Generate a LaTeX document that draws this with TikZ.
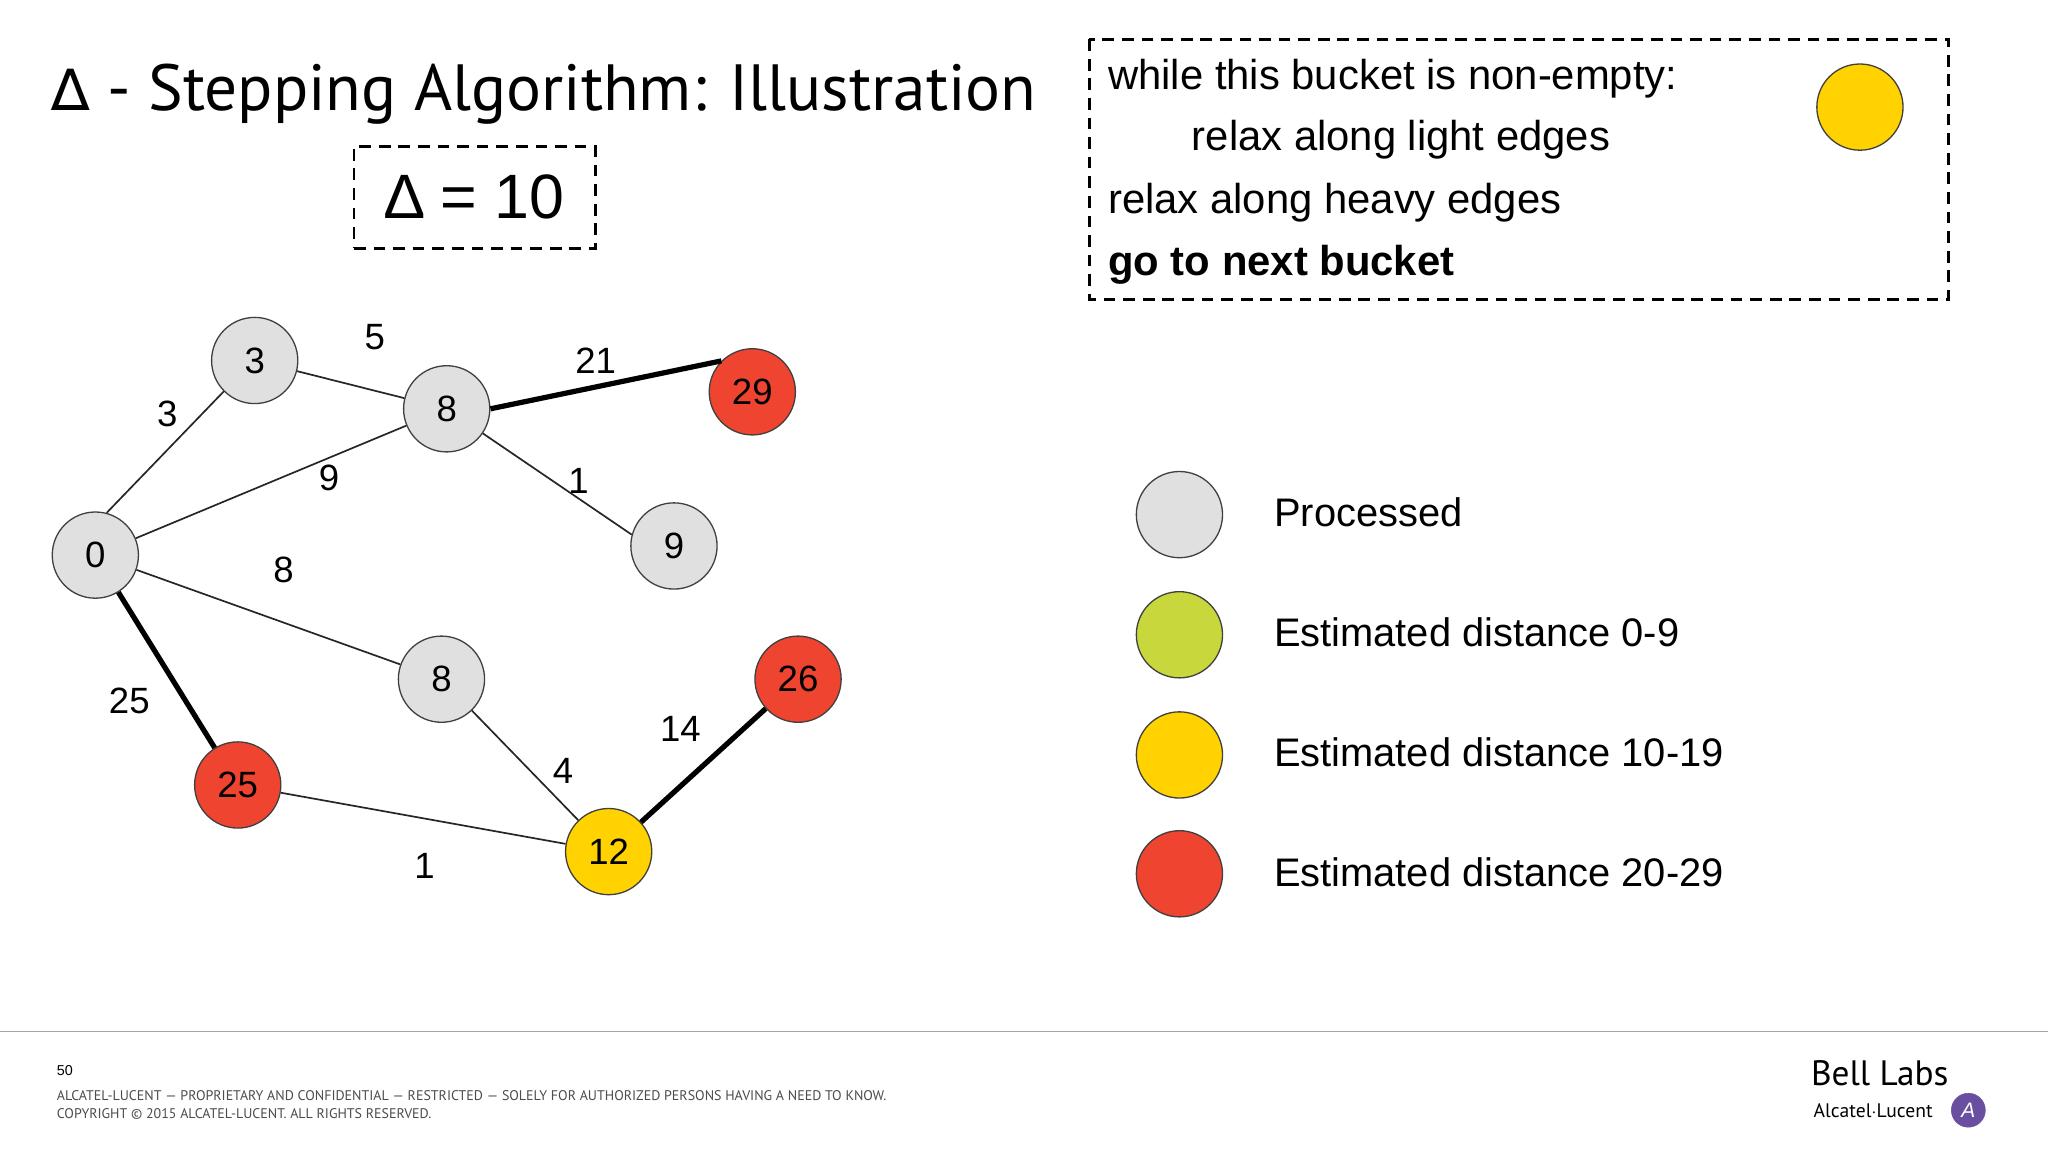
\documentclass[tikz,border=0pt]{standalone}
\usepackage{fontspec}
\setmainfont{Liberation Sans}
\newfontfamily\titlefont{PT Sans}
\newfontfamily\dvs{DejaVu Sans}
\usetikzlibrary{calc}
\definecolor{pgray}{HTML}{E0E0E0}
\definecolor{pred}{HTML}{EE4430}
\definecolor{pyel}{HTML}{FFD200}
\definecolor{pgrn}{HTML}{C8D83C}
\definecolor{lpurple}{HTML}{6A4FA0}
\begin{document}
\begin{tikzpicture}[x=1pt,y=-1pt,
  v/.style={circle,draw=black!75,line width=1pt,minimum size=66pt,inner sep=0pt,font=\fontsize{28}{30}\selectfont},
  vg/.style={v,fill=pgray}, vr/.style={v,fill=pred}, vy/.style={v,fill=pyel}, vgr/.style={v,fill=pgrn},
  e/.style={line width=1.3pt,black!85},
  he/.style={line width=4pt,black},
  lab/.style={font=\fontsize{28}{30}\selectfont},
  box/.style={draw,dashed,line width=2.2pt,dash pattern=on 9pt off 6pt},
  bt/.style={font=\fontsize{32}{34}\selectfont,anchor=west},
  lt/.style={font=\fontsize{30.5}{34}\selectfont,anchor=west}]
\useasboundingbox (0,0) rectangle (1568,882);
\fill[white] (0,0) rectangle (1568,882);
\node[font=\titlefont\fontsize{50}{54}\selectfont,anchor=west] (title) at (36,72) {{\dvs\fontsize{44}{50}\selectfont ∆} - Stepping Algorithm: Illustration};
\node[box,minimum width=185pt,minimum height=78pt,font=\fontsize{48}{50}\selectfont] (delta) at (363.5,151) {∆ = 10};
\draw[box] (834,30) rectangle (1492,229);
\node[bt] (t1) at (845,60) {while this bucket is non-empty:};
\node[bt] (t2) at (909,107) {relax along light edges};
\node[bt] (t3) at (845,155) {relax along heavy edges};
\node[bt,font=\bfseries\fontsize{32}{34}\selectfont] (t4) at (845,203) {go to next bucket};
\node[vy] (cur) at (1424,82) {};
% graph
\node[vg] (n0) at (73,425) {0};
\node[vg] (n3) at (195,276) {3};
\node[vg] (n8a) at (342,313) {8};
\node[vr] (n29) at (576,300) {29};
\node[vg] (n9) at (516,418) {9};
\node[vg] (n8b) at (338,520) {8};
\node[vr] (n25) at (182,601) {25};
\node[vy] (n12) at (466,652) {12};
\node[vr] (n26) at (611,520) {26};
\draw[e] (n0.75)--(n3.225); \draw[e] (n3)--(n8a); \draw[e] (n0)--(n8a);
\draw[he] (n8a.east)--(n29.135); \draw[e] (n8a)--(n9.165); \draw[e] (n0)--(n8b);
\draw[he] (n0)--(n25); \draw[e] (n8b)--(n12); \draw[e] (n25)--(n12);
\draw[he] (n12)--(n26);
\node[lab] (l1) at (128,317) {3};
\node[lab] (l2) at (287,258) {5};
\node[lab] (l3) at (252,366) {9};
\node[lab] (l4) at (456,276) {21};
\node[lab] (l5) at (443,368) {1};
\node[lab] (l6) at (217,436) {8};
\node[lab] (l7) at (99,537) {25};
\node[lab] (l8) at (431,590) {4};
\node[lab] (l9) at (325,663) {1};
\node[lab] (l10) at (521,558) {14};
% legend
\node[vg] (k1) at (903,394) {}; \node[lt] (kt1) at (972,392) {Processed};
\node[vgr] (k2) at (903,486) {}; \node[lt] (kt2) at (972,484) {Estimated distance 0-9};
\node[vy] (k3) at (903,578) {}; \node[lt] (kt3) at (972,576) {Estimated distance 10-19};
\node[vr] (k4) at (903,669) {}; \node[lt] (kt4) at (972,668) {Estimated distance 20-29};
% footer
\draw[black!35,line width=1pt] (0,790) -- (1568,790);
\node[anchor=west,font=\fontsize{11}{12}\selectfont] (pg) at (40,820) {50};
\node[anchor=west,font=\titlefont\fontsize{10.7}{11}\selectfont,text=black!70] (f1) at (40,839) {ALCATEL-LUCENT — PROPRIETARY AND CONFIDENTIAL — RESTRICTED — SOLELY FOR AUTHORIZED PERSONS HAVING A NEED TO KNOW.};
\node[anchor=west,font=\titlefont\fontsize{10.7}{11}\selectfont,text=black!70] (f2) at (40,853) {COPYRIGHT © 2015 ALCATEL-LUCENT. ALL RIGHTS RESERVED.};
\node[anchor=west,font=\titlefont\fontsize{27}{28}\selectfont] (bl) at (1383,822) {Bell Labs};
\node[anchor=west,font=\titlefont\fontsize{15}{16}\selectfont] (al) at (1385,850) {Alcatel$\cdot$Lucent};
\node[circle,draw=lpurple,fill=lpurple,minimum size=26pt,inner sep=0pt,text=white,font=\itshape\fontsize{16}{16}\selectfont] (logo) at (1507,850) {A};
\end{tikzpicture}
\end{document}
